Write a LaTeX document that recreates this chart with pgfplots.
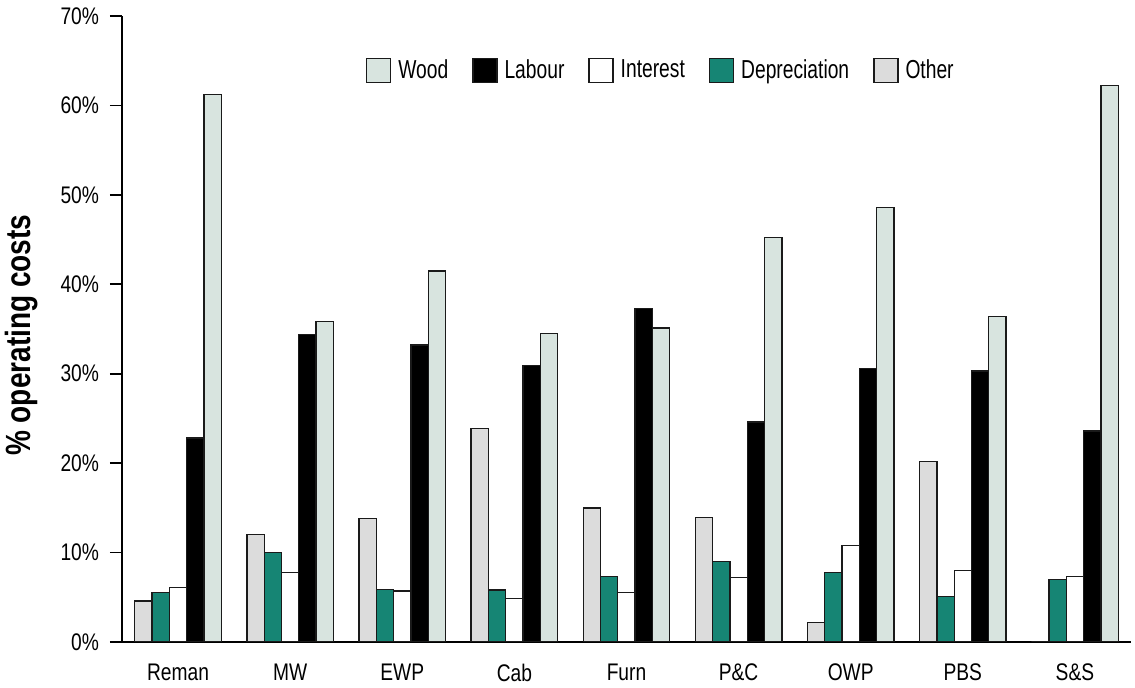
\documentclass[border=0pt]{standalone}
\usepackage{pgfplots}
\pgfplotsset{compat=1.18}
\usepackage{pgfplotstable}
\usepackage{fontspec}
\setmainfont{Liberation Sans}
\newfontfamily\cond[FakeStretch=0.8]{Liberation Sans}
\newfontfamily\legf[FakeStretch=0.74]{Liberation Sans}
\newfontfamily\tickf[FakeStretch=0.8]{Liberation Sans}

\definecolor{woodc}{HTML}{D8E4DF}
\definecolor{deprc}{HTML}{168574}
\definecolor{otherc}{HTML}{DCDCDC}
\definecolor{edgec}{HTML}{1A1A1A}

% operating cost shares (%) by sector
\pgfplotstableread{
x other depr interest labour wood
0 4.6  5.5  6.1  22.8 61.2
1 12.0 10.0 7.8  34.4 35.8
2 13.8 5.9  5.7  33.2 41.5
3 23.9 5.8  4.9  30.9 34.5
4 15.0 7.3  5.5  37.3 35.1
5 13.9 9.0  7.2  24.6 45.2
6 2.2  7.8  10.8 30.6 48.6
7 20.2 5.1  8.0  30.3 36.4
8 0    7.0  7.3  23.6 62.2
}\costs

\begin{document}
\begin{tikzpicture}
\useasboundingbox (-61pt,-23pt) rectangle (506.5pt,321pt);
\begin{axis}[
  at={(0pt,0pt)}, anchor=south west,
  width=504.5pt, height=313pt, scale only axis,
  ybar=0pt, bar width=8.65pt,
  xmin=-0.5, xmax=8.5, ymin=0, ymax=70,
  axis lines=left, axis line style={line width=0.9pt,-},
  xtick={0,...,8},
  xticklabels={Reman,MW,EWP,Cab,Furn,P\&C,OWP,PBS,S\&S},
  xtick style={draw=none},
  extra x ticks={-0.5,0.5,1.5,2.5,3.5,4.5,5.5,6.5,7.5,8.5},
  extra x tick labels={},
  extra x tick style={draw=black, line width=0.9pt, tick align=outside, major tick length=3pt},
  ytick={0,10,...,70},
  yticklabel={\pgfmathprintnumber{\tick}\%},
  ytick style={line width=0.9pt, black},
  tick align=outside, major tick length=6pt,
  /pgf/number format/assume math mode=true,
  yticklabel style={font=\tickf\fontsize{12}{14}\selectfont, xshift=-2pt},
  xticklabel style={font=\cond\fontsize{12}{14}\selectfont, yshift=-1.5pt},
  ylabel={\bfseries \% operating costs},
  ylabel style={font=\cond\fontsize{17.5}{20}\selectfont, at={(axis description cs:-0.1,0.49)}, anchor=center},
  every axis plot/.append style={draw=edgec, line width=0.65pt},
  legend style={draw=none, fill=none, at={(0.535,0.913)}, anchor=center,
    legend columns=-1, font=\legf\fontsize{13}{15}\selectfont,
    /tikz/every odd column/.append style={column sep=1.5pt},
    /tikz/every even column/.append style={column sep=10pt}},
  legend image code/.code={\draw[#1, line width=0.65pt] (0pt,-6pt) rectangle (12pt,6pt);},
  reverse legend,
]
\addplot[fill=otherc] table[x=x, y=other] {\costs};
\addplot[fill=deprc] table[x=x, y=depr] {\costs};
\addplot[fill=white] table[x=x, y=interest] {\costs};
\addplot[fill=black] table[x=x, y=labour] {\costs};
\addplot[fill=woodc] table[x=x, y=wood] {\costs};
\legend{Other,Depreciation,Interest,Labour,Wood}
\end{axis}
\end{tikzpicture}
\end{document}
